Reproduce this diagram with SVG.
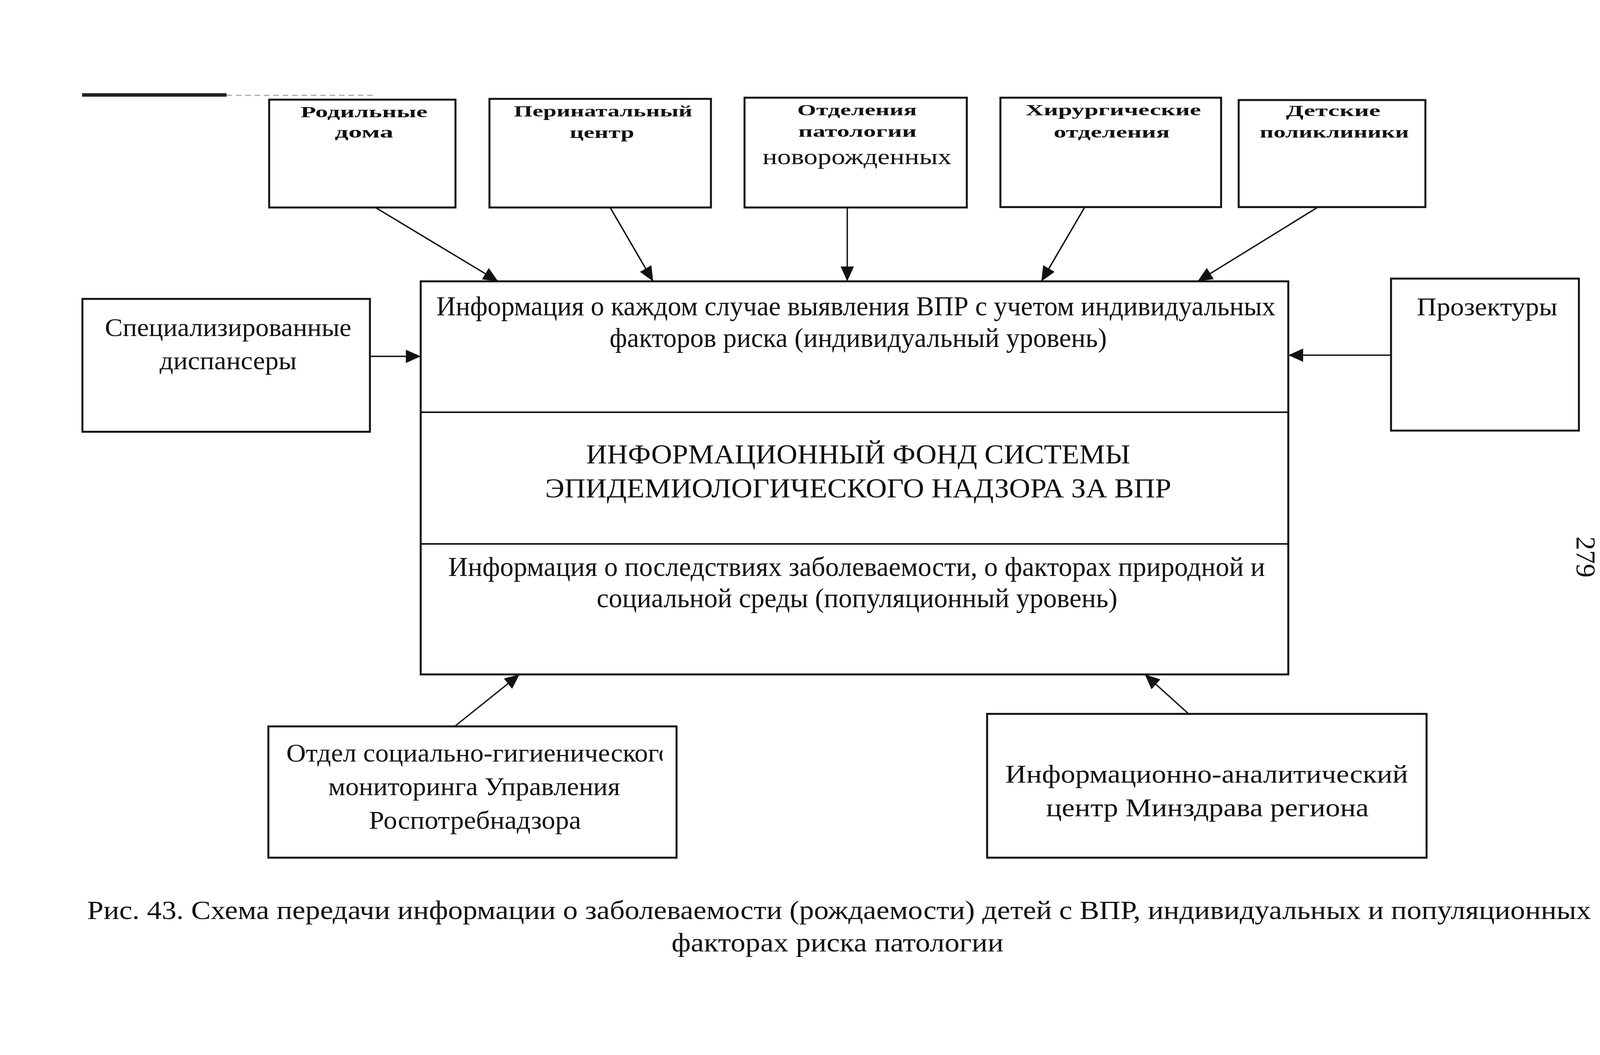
<svg xmlns="http://www.w3.org/2000/svg" width="4263" height="2700" viewBox="0 0 4263 2700">
<style>
.box{fill:none;stroke:#111;stroke-width:5}
.div{stroke:#111;stroke-width:4}
.con{stroke:#111;stroke-width:3.5;fill:none;marker-end:url(#ah)}
.tb{font-family:"Liberation Serif","Times New Roman",serif;font-weight:bold;font-size:40px;fill:#111;text-anchor:middle}
.tn{font-family:"Liberation Serif","Times New Roman",serif;font-weight:normal;font-size:56px;fill:#111;text-anchor:middle}
.tm{font-family:"Liberation Serif","Times New Roman",serif;font-size:70px;fill:#111;text-anchor:middle}
.ts{font-family:"Liberation Serif","Times New Roman",serif;font-size:66px;fill:#111;text-anchor:middle}
.cap{font-family:"Liberation Serif","Times New Roman",serif;font-size:68px;fill:#111;text-anchor:middle}
</style>
<defs>
<marker id="ah" markerUnits="userSpaceOnUse" markerWidth="40" markerHeight="36" refX="38" refY="17" orient="auto">
<path d="M0,0 L38,17 L0,34 z" fill="#111"/>
</marker>
<clipPath id="clipOtdel"><rect x="687" y="1859" width="1009" height="336"/></clipPath>
</defs>
<rect width="4263" height="2700" fill="#fff"/>
<g id="scanrules">
<line x1="210" y1="243" x2="580" y2="243" stroke="#222" stroke-width="9"/>
<line x1="580" y1="244" x2="954" y2="244" stroke="#aaa" stroke-width="3" stroke-dasharray="14 10"/>
<line x1="4100" y1="251" x2="4210" y2="251" stroke="#bbb" stroke-width="2" stroke-dasharray="6 8"/>
</g>
<g id="connectors">
<line class="con" x1="961" y1="531" x2="1275" y2="720"/>
<line class="con" x1="1562" y1="531" x2="1672" y2="720"/>
<line class="con" x1="2169" y1="531" x2="2169" y2="720"/>
<line class="con" x1="2777" y1="530" x2="2666" y2="720"/>
<line class="con" x1="3374" y1="530" x2="3066" y2="720"/>
<line class="con" x1="947" y1="912" x2="1077" y2="912"/>
<line class="con" x1="3561" y1="909" x2="3298" y2="909"/>
<line class="con" x1="1164" y1="1859" x2="1330" y2="1726"/>
<line class="con" x1="3043" y1="1827" x2="2931" y2="1726"/>
</g>
<g id="rodilnye">
<rect class="box" x="689" y="255" width="477" height="276"/>
<text class="tb" x="932" y="300" textLength="325" lengthAdjust="spacingAndGlyphs">Родильные</text>
<text class="tb" x="932" y="352" textLength="150" lengthAdjust="spacingAndGlyphs">дома</text>
</g>
<g id="perinatal">
<rect class="box" x="1253" y="253" width="567" height="278"/>
<text class="tb" x="1544" y="298" textLength="457" lengthAdjust="spacingAndGlyphs">Перинатальный</text>
<text class="tb" x="1541" y="353" textLength="165" lengthAdjust="spacingAndGlyphs">центр</text>
</g>
<g id="otdeleniya-patologii">
<rect class="box" x="1906" y="250" width="569" height="281"/>
<text class="tb" x="2194" y="295" textLength="306" lengthAdjust="spacingAndGlyphs">Отделения</text>
<text class="tb" x="2195" y="350" textLength="303" lengthAdjust="spacingAndGlyphs">патологии</text>
<text class="tn" x="2194" y="420" textLength="484" lengthAdjust="spacingAndGlyphs">новорожденных</text>
</g>
<g id="hirurg">
<rect class="box" x="2561" y="250" width="565" height="280"/>
<text class="tb" x="2850" y="295" textLength="449" lengthAdjust="spacingAndGlyphs">Хирургические</text>
<text class="tb" x="2846" y="352" textLength="297" lengthAdjust="spacingAndGlyphs">отделения</text>
</g>
<g id="detskie">
<rect class="box" x="3171" y="256" width="478" height="274"/>
<text class="tb" x="3413" y="297" textLength="242" lengthAdjust="spacingAndGlyphs">Детские</text>
<text class="tb" x="3416" y="352" textLength="382" lengthAdjust="spacingAndGlyphs">поликлиники</text>
</g>
<g id="infofond">
<rect class="box" x="1077" y="720" width="2221" height="1006"/>
<line class="div" x1="1077" y1="1055" x2="3298" y2="1055"/>
<line class="div" x1="1077" y1="1392" x2="3298" y2="1392"/>
<text class="tm" x="2191" y="807" textLength="2148" lengthAdjust="spacingAndGlyphs">Информация о каждом случае выявления ВПР с учетом индивидуальных</text>
<text class="tm" x="2197" y="888" textLength="1273" lengthAdjust="spacingAndGlyphs">факторов риска (индивидуальный уровень)</text>
<text class="tm" x="2197" y="1186" textLength="1393" lengthAdjust="spacingAndGlyphs">ИНФОРМАЦИОННЫЙ ФОНД СИСТЕМЫ</text>
<text class="tm" x="2197" y="1273" textLength="1603" lengthAdjust="spacingAndGlyphs">ЭПИДЕМИОЛОГИЧЕСКОГО НАДЗОРА ЗА ВПР</text>
<text class="tm" x="2193" y="1474" textLength="2091" lengthAdjust="spacingAndGlyphs">Информация о последствиях заболеваемости, о факторах природной и</text>
<text class="tm" x="2194" y="1554" textLength="1333" lengthAdjust="spacingAndGlyphs">социальной среды (популяционный уровень)</text>
</g>
<g id="specdisp">
<rect class="box" x="211" y="765" width="736" height="340"/>
<text class="ts" x="584" y="860" textLength="631" lengthAdjust="spacingAndGlyphs">Специализированные</text>
<text class="ts" x="584" y="945" textLength="351" lengthAdjust="spacingAndGlyphs">диспансеры</text>
</g>
<g id="prozektury">
<rect class="box" x="3561" y="713" width="481" height="389"/>
<text class="ts" x="3807" y="807" font-size="70" textLength="360" lengthAdjust="spacingAndGlyphs">Прозектуры</text>
</g>
<g id="otdel-rospotreb">
<rect class="box" x="687" y="1859" width="1045" height="336"/>
<text class="ts" x="733" y="1949" style="text-anchor:start" clip-path="url(#clipOtdel)" textLength="987" lengthAdjust="spacingAndGlyphs">Отдел социально-гигиенического</text>
<text class="ts" x="1214" y="2035" textLength="747" lengthAdjust="spacingAndGlyphs">мониторинга Управления</text>
<text class="ts" x="1216" y="2121" textLength="543" lengthAdjust="spacingAndGlyphs">Роспотребнадзора</text>
</g>
<g id="iac-minzdrav">
<rect class="box" x="2527" y="1827" width="1125" height="368"/>
<text class="ts" x="3089" y="2003" font-size="62" textLength="1031" lengthAdjust="spacingAndGlyphs">Информационно-аналитический</text>
<text class="ts" x="3091" y="2089" font-size="62" textLength="826" lengthAdjust="spacingAndGlyphs">центр Минздрава региона</text>
</g>
<g id="caption">
<text class="cap" x="2148" y="2352" textLength="3850" lengthAdjust="spacingAndGlyphs">Рис. 43. Схема передачи информации о заболеваемости (рождаемости) детей с ВПР, индивидуальных и популяционных</text>
<text class="cap" x="2144" y="2435" textLength="850" lengthAdjust="spacingAndGlyphs">факторах риска патологии</text>
</g>
<g id="pagenum">
<text x="4036" y="1373" transform="rotate(90 4036 1373)" font-family="Liberation Serif, Times New Roman, serif" font-size="70" fill="#111">279</text>
</g>
</svg>
